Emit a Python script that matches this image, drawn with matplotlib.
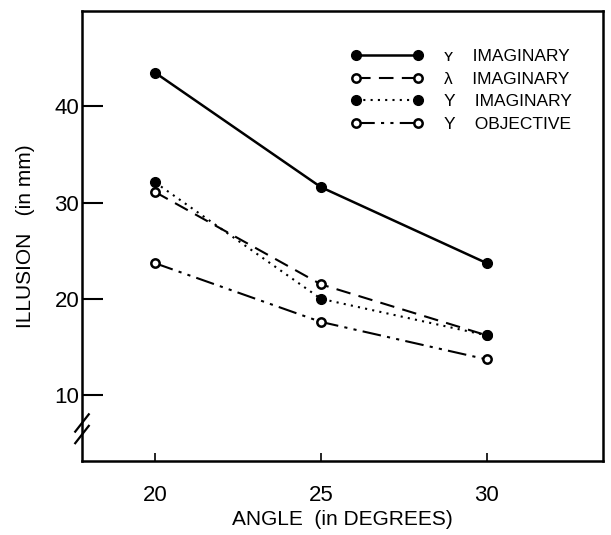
import matplotlib
matplotlib.use("Agg")
import matplotlib.pyplot as plt

plt.rcParams['font.family'] = ['Liberation Sans', 'DejaVu Sans']

angles = [20, 25, 30]
s1 = [43.5, 31.6, 23.7]   # solid, filled
s2 = [31.1, 21.5, 16.2]   # dashed, open
s3 = [32.1, 20.0, 16.2]   # dotted, filled
s4 = [23.7, 17.6, 13.7]   # dash-dot-dot, open
labels = ["\u028f    IMAGINARY", "\u03bb    IMAGINARY", "Y    IMAGINARY", "Y    OBJECTIVE"]
xticks = [20, 25, 30]
yticks = [10, 20, 30, 40]

fig = plt.figure(figsize=(6.11, 5.35), dpi=100)
ax = fig.add_axes([82/611, 74/535, 521/611, 450/535])

ms = 7
h1, = ax.plot(angles, s1, color='black', lw=1.8, marker='o', ms=ms, mfc='black', mec='black')
h2, = ax.plot(angles, s2, color='black', lw=1.5, ls=(0, (7, 4)), marker='o', ms=ms-1,
              mfc='white', mec='black', mew=1.8)
h3, = ax.plot(angles, s3, color='black', lw=1.5, ls=(0, (1, 2.5)), marker='o', ms=ms,
              mfc='black', mec='black')
h4, = ax.plot(angles, s4, color='black', lw=1.5, ls=(0, (9, 3, 1.5, 3, 1.5, 3)), marker='o',
              ms=ms-1, mfc='white', mec='black', mew=1.8)

ax.set_xlim(17.8, 33.5)
ax.set_ylim(3.15, 49.9)
ax.set_xticks(xticks)
ax.set_yticks(yticks)
ax.tick_params(axis='y', direction='in', length=15, width=1.5, labelsize=16, pad=2)
ax.tick_params(axis='x', direction='in', length=6, width=1.2, labelsize=16, pad=17)
for sp in ax.spines.values():
    sp.set_linewidth(1.8)

ax.set_xlabel("ANGLE  (in DEGREES)", fontsize=15, labelpad=3)
ax.set_ylabel("ILLUSION   (in mm)", fontsize=15, labelpad=14)

# axis break marks
for yb in (5.9, 7.1):
    ax.plot([-0.013, 0.013], [yb - 0.9, yb + 0.9], color='black', lw=1.6,
            transform=ax.get_yaxis_transform(), clip_on=False)

leg = ax.legend([h1, h2, h3, h4], labels, loc='upper left', bbox_to_anchor=(0.485, 0.95),
                frameon=False, fontsize=12.5, handlelength=4.2, handletextpad=1.2,
                labelspacing=0.42, numpoints=2)

fig.savefig("out.png", dpi=100)
